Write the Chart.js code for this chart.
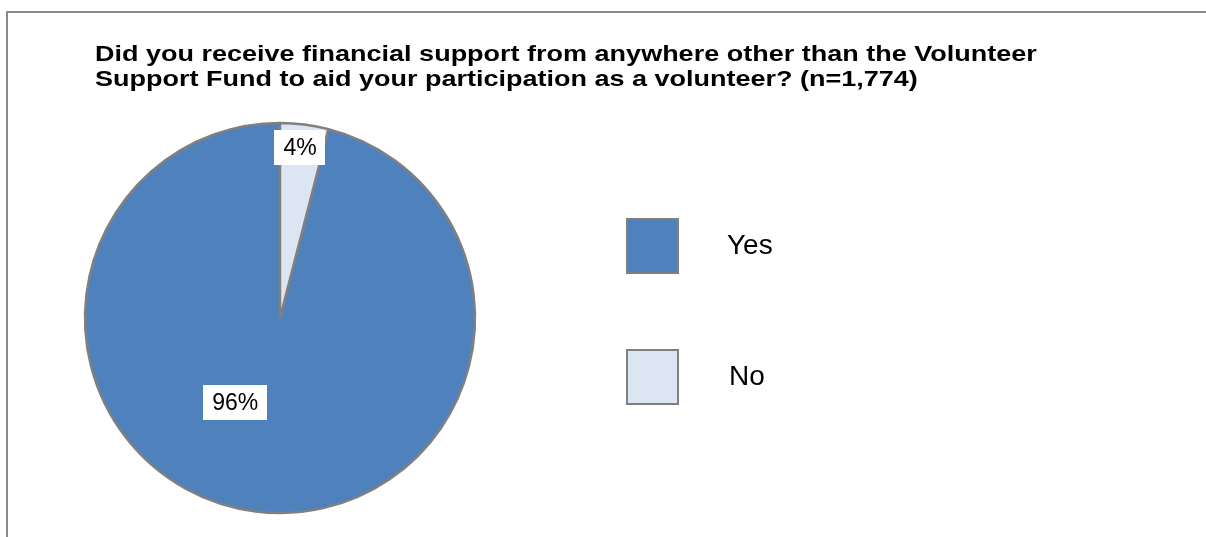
<!DOCTYPE html>
<html>
<head>
<meta charset="utf-8">
<script src="https://cdn.jsdelivr.net/npm/chart.js@4.4.1/dist/chart.umd.min.js"></script>
<style>
  html, body { margin: 0; padding: 0; background: #ffffff; }
  #wrap { width: 1206px; height: 537px; position: relative; }
</style>
</head>
<body>
<div id="wrap"><canvas id="pie" width="1206" height="537"></canvas></div>
<script>
// Survey answers and their shares (percent)
const categories = ['Yes', 'No'];
const shares = [96, 4];
const sliceColors = ['#4F81BD', '#DCE6F2'];
const titleLines = [
  'Did you receive financial support from anywhere other than the Volunteer',
  'Support Fund to aid your participation as a volunteer? (n=1,774)'
];

const FONT = '"Liberation Sans", Arial, sans-serif';

// Where each value label sits, relative to its slice (fraction of radius, degrees of turn from slice middle)
const labelPlacement = [
  { radius: 0.49, turn: 20.7 },
  { radius: 0.88, turn: -0.5 }
];

// Frame, title, legend and value labels
const decorations = {
  id: 'decorations',
  afterDatasetsDraw(chart) {
    const ctx = chart.ctx;
    const ds = chart.data.datasets[0];
    const meta = chart.getDatasetMeta(0);

    ctx.save();
    // outer frame
    ctx.strokeStyle = '#8a8a8a';
    ctx.lineWidth = 2;
    ctx.strokeRect(7, 12, 1300, 700);

    // title (wide bold face)
    ctx.save();
    ctx.fillStyle = '#000000';
    ctx.font = 'bold 22.5px ' + FONT;
    ctx.textBaseline = 'alphabetic';
    ctx.textAlign = 'left';
    ctx.translate(95, 0);
    ctx.scale(1.2, 1);
    titleLines.forEach((line, i) => ctx.fillText(line, 0, 61 + i * 25));
    ctx.restore();

    // value labels in white boxes
    ctx.font = '23px ' + FONT;
    ctx.textAlign = 'center';
    ctx.textBaseline = 'middle';
    meta.data.forEach((arc, i) => {
      const p = arc.getProps(['x', 'y', 'startAngle', 'endAngle', 'outerRadius'], true);
      const mid = (p.startAngle + p.endAngle) / 2 + labelPlacement[i].turn * Math.PI / 180;
      const r = p.outerRadius * labelPlacement[i].radius;
      const cx = p.x + Math.cos(mid) * r;
      const cy = p.y + Math.sin(mid) * r;
      const text = ds.data[i] + '%';
      const w = ctx.measureText(text).width + 18;
      const h = 35;
      ctx.fillStyle = '#ffffff';
      ctx.fillRect(Math.round(cx - w / 2), Math.round(cy - h / 2), Math.round(w), h);
      ctx.fillStyle = '#000000';
      ctx.fillText(text, cx, cy + 1);
    });

    // legend
    ctx.font = '28px ' + FONT;
    ctx.textAlign = 'left';
    ctx.textBaseline = 'alphabetic';
    chart.data.labels.forEach((label, i) => {
      const top = 219 + i * 131;
      ctx.fillStyle = ds.backgroundColor[i];
      ctx.fillRect(627, top, 51, 54);
      ctx.strokeStyle = '#808080';
      ctx.lineWidth = 2;
      ctx.strokeRect(627, top, 51, 54);
      ctx.fillStyle = '#000000';
      ctx.fillText(label, 727 + i * 2, top + 35);
    });
    ctx.restore();
  }
};

new Chart(document.getElementById('pie'), {
  type: 'pie',
  data: {
    labels: categories,
    datasets: [{
      data: shares,
      backgroundColor: sliceColors,
      borderColor: '#808080',
      borderWidth: 2.5,
      radius: 195
    }]
  },
  options: {
    responsive: false,
    animation: false,
    rotation: shares[1] / 100 * 360,
    layout: { padding: { left: 0, right: 646, top: 99, bottom: 0 } },
    plugins: {
      legend: { display: false },
      title: { display: false },
      tooltip: { enabled: false }
    }
  },
  plugins: [decorations]
});
</script>
</body>
</html>
